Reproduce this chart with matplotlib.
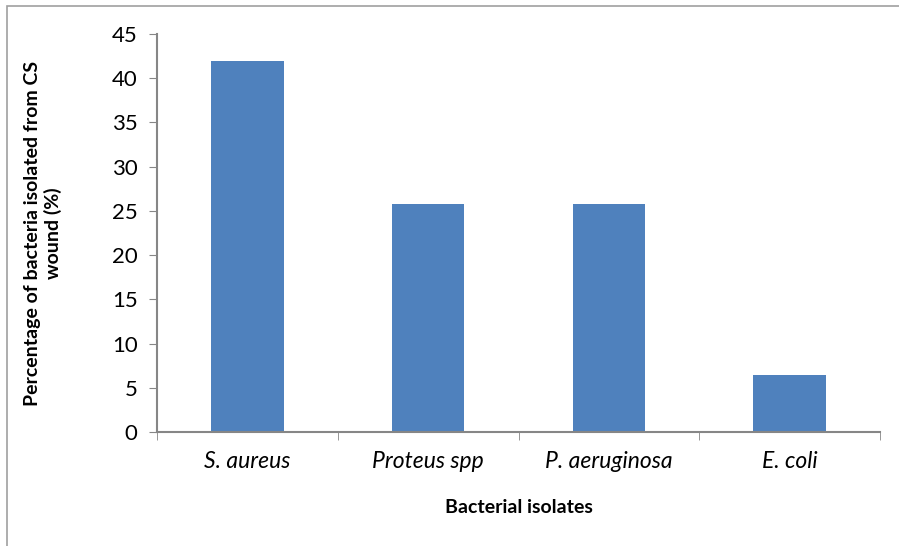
import matplotlib.pyplot as plt
import numpy as np
from matplotlib.patches import Rectangle

# Data
isolates = ["S. aureus", "Proteus spp", "P. aeruginosa", "E. coli"]
percent = [41.9, 25.8, 25.8, 6.45]
yticks = [0, 5, 10, 15, 20, 25, 30, 35, 40, 45]

plt.rcParams["font.family"] = ["Lato", "DejaVu Sans"]

fig = plt.figure(figsize=(8.99, 5.46), dpi=100)
ax = fig.add_axes([157 / 899, 1 - 432 / 546, (880 - 157) / 899, (432 - 34) / 546])

x = np.arange(len(isolates))
ax.bar(x, percent, width=0.4, color="#4F81BD", zorder=2)

ax.set_xlim(-0.5, len(isolates) - 0.5)
ax.set_ylim(0, 45)
ax.set_yticks(yticks)
ax.set_yticklabels([str(t) for t in yticks], fontsize=16)

# category labels centred, ticks on the boundaries
ax.set_xticks(x)
ax.set_xticklabels(isolates, fontsize=16.5, style="italic")
ax.tick_params(axis="x", which="major", length=0, pad=14)
ax.set_xticks(np.arange(-0.5, len(isolates)), minor=True)
ax.tick_params(axis="x", which="minor", length=6, color="#868686", direction="out")
ax.tick_params(axis="y", length=6, color="#868686", direction="out", pad=8)

for s in ["top", "right"]:
    ax.spines[s].set_visible(False)
for s in ["left", "bottom"]:
    ax.spines[s].set_color("#868686")
    ax.spines[s].set_linewidth(1.5)

ax.set_xlabel("Bacterial isolates", fontsize=14, fontweight="bold", labelpad=19)
ax.set_ylabel("Percentage of bacteria isolated from CS\nwound (%)", fontsize=14,
              fontweight="bold", labelpad=36)

# outer chart border
fig.patches.append(Rectangle((7 / 899, -0.05), 1.0, 1 - 6 / 546 + 0.05,
                             transform=fig.transFigure, fill=False,
                             edgecolor="#A0A0A0", linewidth=1.2))

fig.savefig("out.png", dpi=100)
